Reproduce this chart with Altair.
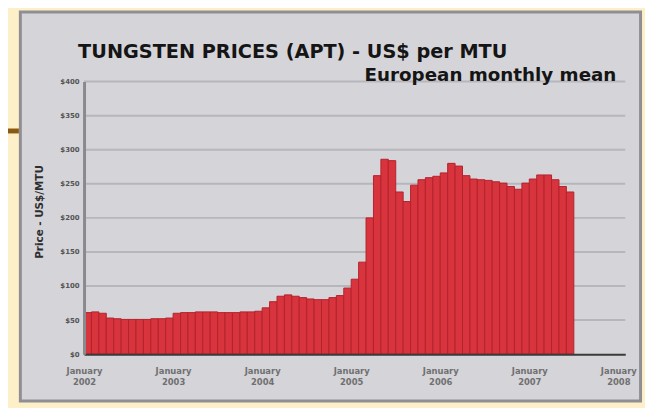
import altair as alt
import pandas as pd

# ---- data ----
month_index = list(range(66))  # Jan 2002 .. Jun 2007
prices = [
    61, 62, 60,
    53, 52, 51, 51, 51, 51, 52, 52, 53,
    60, 61, 61, 62, 62, 62, 61, 61, 61, 62, 62, 63,
    68, 77, 85, 87, 85, 83, 81, 80, 80, 83, 86, 97,
    110, 135, 200, 262, 286, 284, 238, 224, 248, 256, 259, 261,
    266, 280, 276, 262, 257, 256, 255, 253, 251, 246, 242, 251,
    257, 263, 263, 256, 246, 238,
]
year_tick_months = [0, 12, 24, 36, 48, 60, 72]
year_labels = ["2002", "2003", "2004", "2005", "2006", "2007", "2008"]
month_label = "January"
price_ticks = [0, 50, 100, 150, 200, 250, 300, 350, 400]
title_line1 = "TUNGSTEN PRICES (APT) - US$ per MTU"
title_line2 = "European monthly mean"
y_title = "Price - US$/MTU"

W, H = 548, 276
RED = "#D8343D"
RED_EDGE = "#B4232C"
PANEL = "#D4D4D9"
CREAM = "#FDF0C8"

bars_df = pd.DataFrame({
    "m": month_index,
    "m_end": [m + 1 for m in month_index],
    "price": prices,
})
grid_df = pd.DataFrame({"v": price_ticks[1:]})
one = pd.DataFrame({"k": [0]})

xs = alt.Scale(domain=[0, 72.93], nice=False, zero=False)
ys = alt.Scale(domain=[0, 400], nice=False)

label_expr = ""
for m, y in zip(year_tick_months, year_labels):
    label_expr += f"datum.value == {m} ? ['{month_label}', '{y}'] : "
label_expr += "''"

y_axis = alt.Axis(
    values=price_ticks, labelExpr="'$' + datum.value", title=None, grid=False,
    ticks=False, domainColor="#8A8A8E", domainWidth=3, labelColor="#555555",
    labelFont="DejaVu Sans", labelFontWeight="bold", labelFontSize=7,
    labelPadding=5, zindex=1,
)

panel = alt.Chart(one).mark_rect(fill=PANEL, stroke="#8E8E93", strokeWidth=3).encode(
    x=alt.value(-64.5), x2=alt.value(563.5), y=alt.value(-70.5), y2=alt.value(323.5)
)

brown = alt.Chart(one).mark_rule(color="#8B5A12", strokeWidth=5).encode(
    x=alt.value(-80), x2=alt.value(-66), y=alt.value(50)
)

grid = alt.Chart(grid_df).mark_rule(color="#B6B6BC", strokeWidth=2).encode(
    y=alt.Y("v:Q", scale=ys, axis=y_axis),
    x=alt.value(0), x2=alt.value(W),
)

bars = alt.Chart(bars_df).mark_bar(fill=RED, stroke=RED_EDGE, strokeWidth=1).encode(
    x=alt.X("m:Q", scale=xs, axis=alt.Axis(
        values=year_tick_months, labelExpr=label_expr, title=None, grid=False,
        ticks=False, domainColor="#3A3A3A", domainWidth=2, labelColor="#707070",
        labelFont="DejaVu Sans", labelFontWeight="bold", labelFontSize=8.5,
        labelLineHeight=11, labelPadding=13, zindex=1, labelFlush=False,
    )),
    x2="m_end:Q",
    y=alt.Y("price:Q", scale=ys, axis=y_axis),
    y2=alt.datum(0),
)

t1 = alt.Chart(one).mark_text(
    text=title_line1, font="DejaVu Sans", fontWeight="bold", fontSize=19.5,
    color="#151515", align="left", baseline="middle",
).encode(x=alt.value(-6), y=alt.value(-30))

t2 = alt.Chart(one).mark_text(
    text=title_line2, font="DejaVu Sans", fontWeight="bold", fontSize=18.5,
    color="#151515", align="right", baseline="middle",
).encode(x=alt.value(539), y=alt.value(-7))

ytitle = alt.Chart(one).mark_text(
    text=y_title, font="DejaVu Sans", fontWeight="bold", fontSize=10.5,
    color="#2E2E2E", align="center", baseline="middle", angle=270,
).encode(x=alt.value(-45), y=alt.value(132))

chart = alt.layer(panel, brown, grid, bars, t1, t2, ytitle).properties(
    width=W, height=H,
    autosize=alt.AutoSizeParams(type="none"),
    padding={"left": 77, "top": 72, "right": 20, "bottom": 52},
    background=CREAM,
).configure_view(stroke=None)

chart.save("out.html", embed_options={"renderer": "svg", "actions": False})
